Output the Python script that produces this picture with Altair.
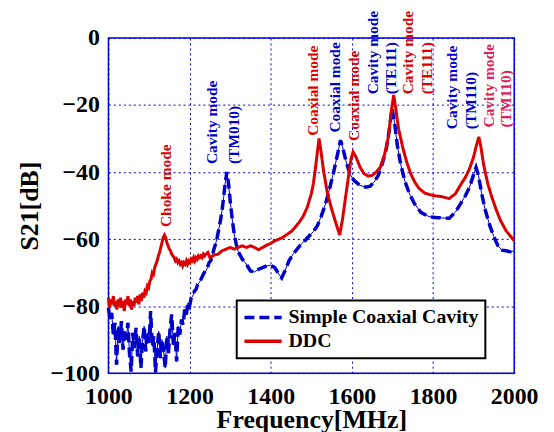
import altair as alt
import pandas as pd

# ---- data ----
ddc_freq = [1000, 1003, 1006, 1009, 1012, 1015, 1018, 1021, 1024, 1027, 1030, 1033, 1036, 1039,
            1042, 1045, 1048, 1051, 1054, 1057, 1060, 1063, 1066, 1069, 1072, 1075, 1078, 1081,
            1084, 1087, 1090, 1093, 1096, 1099, 1102, 1105, 1108, 1111, 1114, 1117, 1120, 1123,
            1126, 1129, 1132, 1135, 1138, 1141, 1144, 1147, 1150, 1153, 1156, 1159, 1162, 1165,
            1168, 1171, 1174, 1177, 1180, 1183, 1186, 1189, 1192, 1195, 1198, 1201, 1204, 1207,
            1210, 1213, 1216, 1219, 1222, 1225, 1228, 1231, 1234, 1237, 1240, 1245, 1250, 1260,
            1270, 1280, 1290, 1300, 1310, 1320, 1330, 1340, 1350, 1360, 1370, 1380, 1390, 1400,
            1410, 1420, 1430, 1440, 1450, 1460, 1470, 1480, 1490, 1500, 1505, 1510, 1515, 1519,
            1523, 1530, 1540, 1550, 1560, 1570, 1577, 1585, 1592, 1598, 1603, 1610, 1620, 1630,
            1640, 1650, 1660, 1670, 1680, 1690, 1697, 1703, 1708, 1715, 1725, 1735, 1745, 1755,
            1765, 1780, 1800, 1820, 1840, 1855, 1868, 1880, 1890, 1900, 1907, 1913, 1918, 1925,
            1935, 1945, 1955, 1966, 1980, 1990, 2000]
ddc_db = [-77.5, -80.5, -78.0, -79.5, -77.0, -80.0, -78.5, -81.0, -78.0, -79.0, -77.5, -80.5, -78.5, -81.5,
          -78.0, -79.5, -77.0, -80.0, -78.0, -81.0, -78.5, -80.0, -77.5, -79.0, -77.0, -79.5, -76.5, -78.5,
          -76.0, -77.5, -75.5, -76.0, -74.0, -74.5, -72.5, -72.0, -70.0, -70.5, -68.5, -67.5, -66.5, -65.0,
          -64.0, -62.5, -61.0, -59.5, -58.8, -59.5, -61.0, -62.0, -63.0, -63.5, -64.5, -65.0, -65.5, -66.5,
          -66.0, -67.0, -66.5, -67.5, -67.0, -68.0, -67.0, -67.5, -66.5, -67.5, -66.5, -67.0, -66.0, -66.5,
          -65.5, -66.5, -65.5, -66.0, -65.0, -65.5, -65.0, -65.5, -64.5, -65.0, -64.5, -64.0, -65.5, -64.8,
          -64.5, -63.5, -63.0, -62.5, -63.0, -62.5, -62.0, -62.5, -62.0, -62.5, -63.2, -62.5, -61.8, -61.3,
          -60.5, -60.0, -59.5, -58.6, -57.8, -56.5, -55.0, -53.2, -50.5, -46.5, -43.5, -39.0, -34.0, -30.0,
          -33.0, -39.5, -46.5, -51.0, -55.0, -58.8, -54.0, -47.0, -41.0, -36.0, -34.0, -35.5, -38.5, -40.5,
          -41.2, -41.0, -40.0, -38.5, -35.0, -29.5, -22.0, -17.0, -21.0, -27.0, -32.5, -37.0, -40.5, -43.0,
          -44.8, -46.3, -47.0, -47.3, -47.9, -46.5, -43.8, -41.5, -39.0, -35.5, -32.0, -29.5, -32.5, -38.0,
          -43.5, -47.5, -51.0, -54.4, -57.5, -59.0, -60.5]

scc_freq = [1000, 1004, 1008, 1012, 1016, 1020, 1024, 1028, 1032, 1036, 1040, 1044, 1048, 1052,
            1056, 1060, 1064, 1068, 1072, 1076, 1080, 1084, 1088, 1092, 1096, 1100, 1104, 1108,
            1112, 1116, 1120, 1124, 1128, 1132, 1136, 1140, 1144, 1148, 1152, 1156, 1160, 1164,
            1168, 1172, 1176, 1180, 1184, 1188, 1192, 1196, 1200, 1204, 1208, 1212, 1216, 1220,
            1224, 1228, 1232, 1236, 1240, 1244, 1248, 1252, 1256, 1260, 1264, 1268, 1272, 1276,
            1280, 1284, 1288, 1292, 1296, 1300, 1305, 1310, 1315, 1320, 1330, 1340, 1350, 1360,
            1370, 1380, 1390, 1400, 1410, 1420, 1427, 1435, 1445, 1455, 1465, 1475, 1485, 1495,
            1505, 1515, 1525, 1535, 1545, 1555, 1565, 1572, 1577, 1585, 1595, 1605, 1620, 1635,
            1645, 1655, 1665, 1675, 1685, 1692, 1699, 1705, 1712, 1720, 1730, 1742, 1754, 1770,
            1790, 1810, 1840, 1855, 1868, 1880, 1890, 1898, 1906, 1912, 1920, 1928, 1940, 1950,
            1960, 1970, 1980, 1990, 2000]
scc_db = [-80.5, -84.0, -82.0, -88.5, -85.0, -97.5, -86.0, -91.0, -84.5, -93.0, -87.5, -90.0, -85.0, -94.5,
          -99.5, -88.0, -92.5, -86.5, -95.0, -89.0, -98.5, -90.5, -86.0, -93.5, -88.0, -91.0, -81.5, -92.0,
          -89.0, -99.8, -93.0, -87.5, -95.5, -90.0, -93.5, -98.5, -89.0, -94.0, -86.5, -82.5, -91.5, -88.0,
          -96.5, -86.0, -88.5, -84.0, -85.5, -81.0, -82.5, -79.0, -80.0, -77.5, -77.0, -75.5, -75.0, -73.5,
          -73.0, -72.0, -71.0, -70.0, -69.5, -68.5, -67.0, -66.5, -65.0, -63.0, -61.5, -59.5, -57.0, -54.5,
          -51.5, -47.5, -43.0, -40.0, -43.5, -48.5, -54.0, -58.5, -61.5, -63.8, -66.0, -67.5, -69.5, -69.8,
          -69.0, -68.5, -68.0, -67.8, -68.5, -70.5, -71.6, -69.5, -66.5, -64.5, -63.0, -61.5, -60.4, -59.0,
          -57.8, -56.0, -53.0, -49.5, -45.0, -40.0, -34.5, -30.5, -32.5, -36.5, -40.5, -42.5, -44.0, -44.5,
          -44.2, -43.0, -41.0, -37.5, -33.0, -27.5, -21.0, -25.0, -32.0, -37.5, -42.5, -46.5, -49.4, -52.0,
          -53.3, -53.6, -53.8, -52.0, -49.4, -47.0, -44.5, -41.5, -38.6, -41.0, -46.5, -51.0, -56.0, -59.3,
          -62.0, -63.3, -63.5, -63.8, -63.5]

series_names = ["Simple Coaxial Cavity", "DDC"]
series_colors = ["#0000cc", "#dd0000"]

note_text = ["Choke mode", "Cavity mode", "(TM010)", "Coaxial mode", "Coaxial mode", "Coaxial mode",
             "Cavity mode", "(TE111)", "Cavity mode", "(TE111)", "Cavity mode", "(TM110)",
             "Cavity mode", "(TM110)"]
note_freq = [1141, 1256, 1309, 1505, 1558, 1605, 1652, 1697, 1739, 1785, 1846, 1893, 1938, 1980]
note_db = [-56.4, -37.6, -37.6, -29.2, -28.2, -30.7, -16.8, -16.8, -16.8, -16.8, -27.2, -27.2,
           -26.7, -26.7]
note_color = ["#dd0000", "#0000cc", "#0000cc", "#dd0000", "#0000cc", "#dd0000", "#0000cc", "#0000cc",
              "#dd0000", "#dd0000", "#0000cc", "#0000cc", "#e0205a", "#e0205a"]

x_ticks = [1000, 1200, 1400, 1600, 1800, 2000]
y_ticks = [-100, -80, -60, -40, -20, 0]

# ---- tables ----
df = pd.concat([
    pd.DataFrame({"freq": scc_freq, "db": scc_db, "series": series_names[0]}),
    pd.DataFrame({"freq": ddc_freq, "db": ddc_db, "series": series_names[1]}),
], ignore_index=True)
notes = pd.DataFrame({"freq": note_freq, "db": note_db, "text": note_text, "col": note_color})

FONT = "Liberation Serif"
BLUE = "#0000dd"

xscale = alt.Scale(domain=[1000, 2000], nice=False, zero=False)
yscale = alt.Scale(domain=[-100, 0], nice=False, zero=False)

x = alt.X("freq:Q", scale=xscale,
          axis=alt.Axis(values=x_ticks, format="d", labelOverlap=False, labelFlush=False,
                        title="Frequency[MHz]", titleY=55, titleBaseline="alphabetic",
                        labelPadding=12))
y = alt.Y("db:Q", scale=yscale,
          axis=alt.Axis(values=y_ticks, format="d", labelOverlap=False, labelFlush=False,
                        title="S21[dB]", titleX=-71, titleY=168.5, titleBaseline="alphabetic",
                        titleAngle=270, labelPadding=9))

leg = alt.Legend(orient="none", legendX=129, legendY=264, title=None, strokeColor="black",
                 fillColor="white", padding=6, symbolType="stroke", symbolSize=1400,
                 symbolStrokeWidth=3.5, labelFontSize=20, labelFont=FONT, labelFontWeight="bold",
                 labelLimit=0, clipHeight=22, labelOffset=5, labelColor="black")
color = alt.Color("series:N", scale=alt.Scale(domain=series_names, range=series_colors), legend=leg)
dash = alt.StrokeDash("series:N", scale=alt.Scale(domain=series_names, range=[[10, 5], [1, 0]]),
                      legend=leg)

base = alt.Chart(df).encode(x=x, y=y)

thin = base.transform_filter(alt.datum.series == series_names[0]).mark_line(
    strokeWidth=1, color="#0000cc")
blue = base.transform_filter(alt.datum.series == series_names[0]).mark_line(
    strokeWidth=3.5).encode(color=color, strokeDash=dash)
red = base.transform_filter(alt.datum.series == series_names[1]).mark_line(
    strokeWidth=3).encode(color=color, strokeDash=dash)

text = alt.Chart(notes).mark_text(angle=270, align="left", baseline="middle", fontSize=15.5,
                                  fontWeight="bold", font=FONT).encode(
    x=alt.X("freq:Q", scale=xscale), y=alt.Y("db:Q", scale=yscale), text="text:N",
    color=alt.Color("col:N", scale=None))

chart = alt.layer(thin, blue, red, text).properties(
    width=408, height=337,
    autosize=alt.AutoSizeParams(type="none"),
    padding={"left": 101, "top": 29, "right": 32, "bottom": 58},
).configure_view(stroke=BLUE, strokeWidth=1.5).configure_axis(
    labelFont=FONT, labelFontSize=24, labelFontWeight="bold", labelColor="black",
    titleFont=FONT, titleFontSize=26, titleFontWeight="bold", titleColor="black",
    grid=True, gridColor=BLUE, gridDash=[2, 3], gridWidth=1, gridOpacity=1,
    ticks=False, domain=False,
).configure_legend(strokeWidth=2)

chart.save("out.html", embed_options={"renderer": "svg", "actions": False})
